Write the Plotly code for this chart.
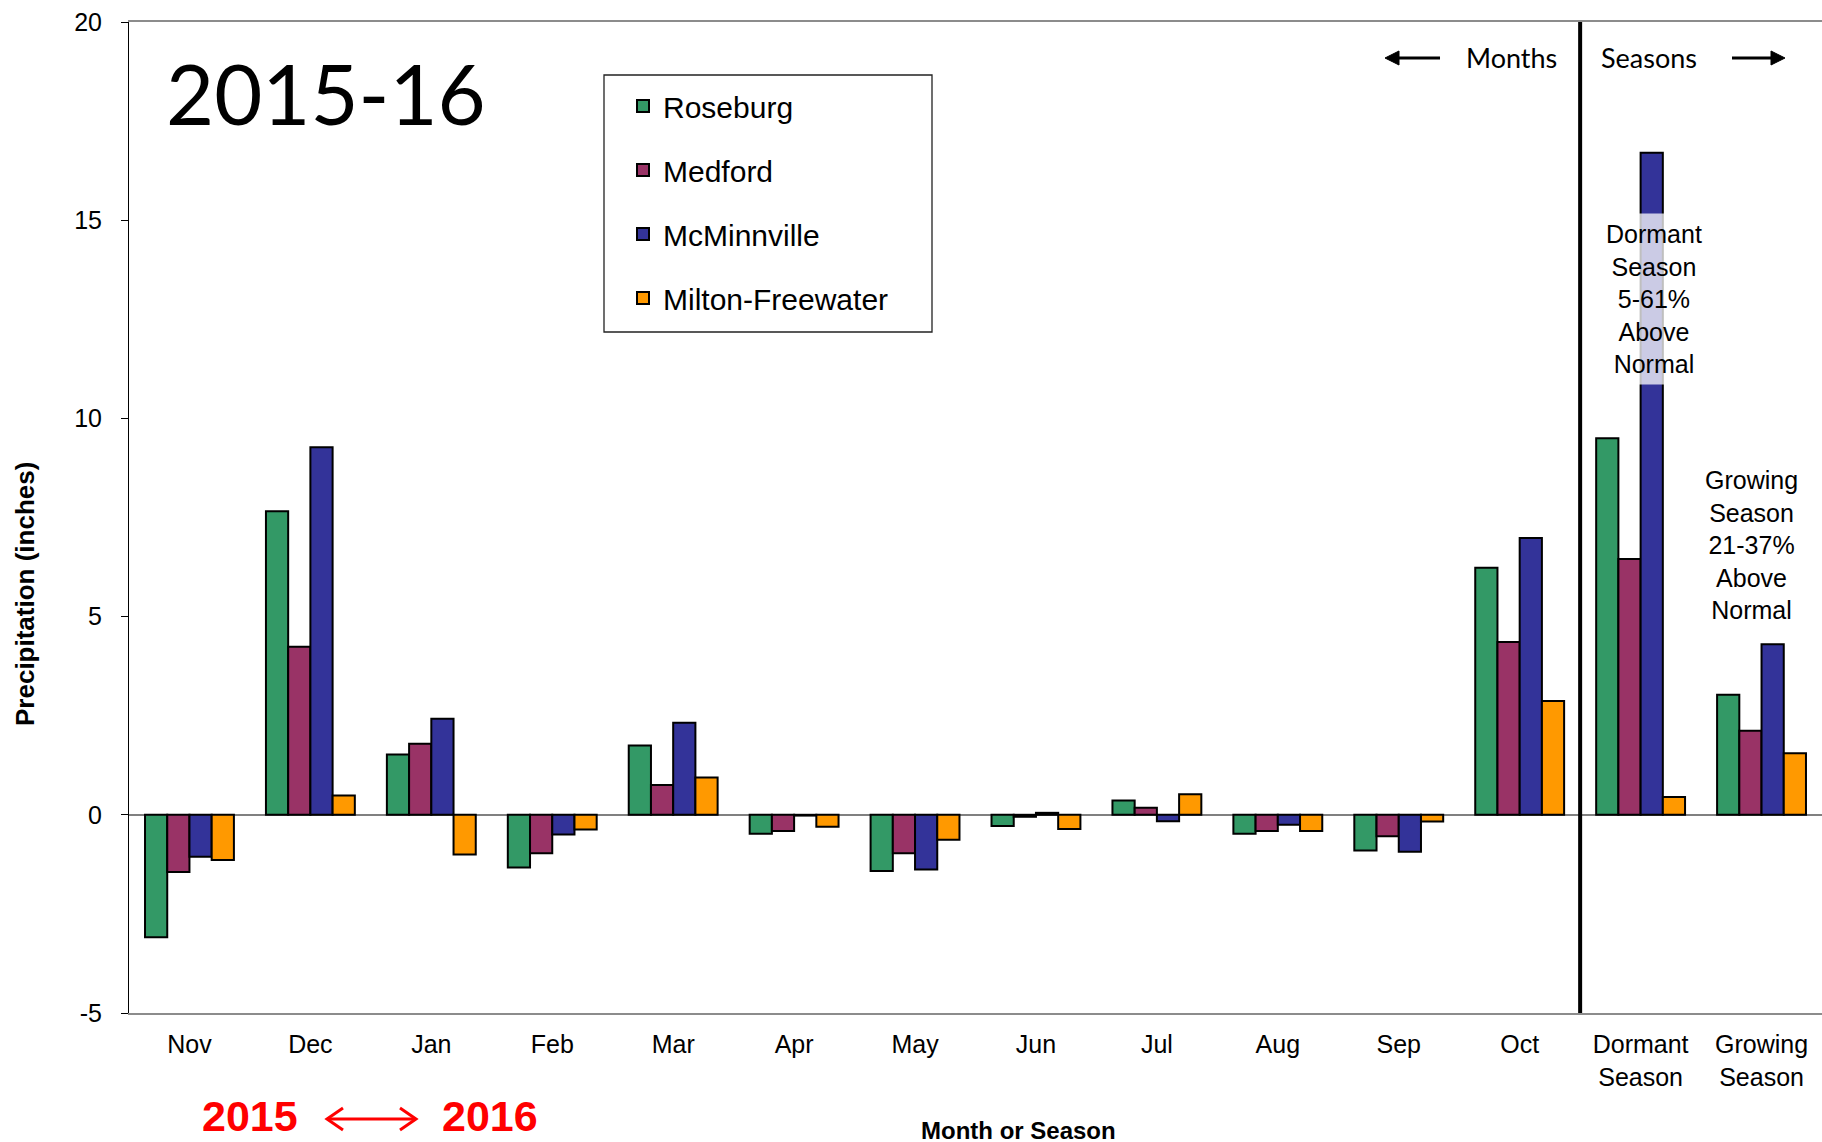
import plotly.graph_objects as go

# ---------------- data ----------------
categories = ["Nov", "Dec", "Jan", "Feb", "Mar", "Apr", "May", "Jun", "Jul", "Aug",
              "Sep", "Oct", "Dormant<br>Season", "Growing<br>Season"]
roseburg = [-3.09, 7.66, 1.52, -1.33, 1.75, -0.48, -1.42, -0.28, 0.36, -0.48, -0.90, 6.23, 9.50, 3.03]
medford = [-1.44, 4.24, 1.79, -0.97, 0.75, -0.41, -0.97, -0.05, 0.18, -0.41, -0.54, 4.36, 6.45, 2.12]
mcminnville = [-1.06, 9.27, 2.42, -0.50, 2.32, -0.02, -1.38, 0.05, -0.16, -0.25, -0.93, 6.98, 16.70, 4.30]
milton_freewater = [-1.14, 0.49, -1.00, -0.37, 0.94, -0.30, -0.63, -0.36, 0.52, -0.41, -0.17, 2.87, 0.45, 1.55]

series_names = ["Roseburg", "Medford", "McMinnville", "Milton-Freewater"]
series_values = [roseburg, medford, mcminnville, milton_freewater]
series_colors = ["#339966", "#993366", "#333399", "#FF9900"]

y_ticks = [-5, 0, 5, 10, 15, 20]
y_tick_labels = ["-5", "0", "5", "10", "15", "20"]

# ---------------- layout helpers (pixel -> paper) ----------------
W, H = 1822, 1142
L, R, T, B = 129, 1822, 22, 1013


def px(x):
    return (x - L) / (R - L)


def py(y):
    return (B - y) / (B - T)


ARIAL = "Liberation Sans, Arial, sans-serif"
CALIBRI = "Lato, Carlito, Calibri, sans-serif"

fig = go.Figure()
for name, vals, col in zip(series_names, series_values, series_colors):
    fig.add_trace(go.Bar(
        x=categories, y=vals, name=name, legendgroup=name,
        marker=dict(color=col, line=dict(color="black", width=2)),
    ))

shapes = []
# separator between months and seasons
shapes.append(dict(type="line", xref="x", yref="paper", x0=11.5, x1=11.5, y0=0, y1=1,
                   line=dict(color="black", width=4)))
# legend box
shapes.append(dict(type="rect", xref="paper", yref="paper",
                   x0=px(604), x1=px(932), y0=py(332), y1=py(75),
                   line=dict(color="#222222", width=1.3), fillcolor="rgba(0,0,0,0)"))


def path(points, close=False):
    s = "M " + " L ".join(f"{px(a):.5f},{py(b):.5f}" for a, b in points)
    return s + (" Z" if close else "")


# Months arrow (pointing left)
shapes.append(dict(type="path", xref="paper", yref="paper",
                   path=path([(1394, 58), (1440, 58)]), line=dict(color="black", width=3)))
shapes.append(dict(type="path", xref="paper", yref="paper",
                   path=path([(1385, 58), (1399, 51), (1399, 65)], close=True),
                   line=dict(color="black", width=1), fillcolor="black"))
# Seasons arrow (pointing right)
shapes.append(dict(type="path", xref="paper", yref="paper",
                   path=path([(1732, 58), (1776, 58)]), line=dict(color="black", width=3)))
shapes.append(dict(type="path", xref="paper", yref="paper",
                   path=path([(1785, 58), (1771, 51), (1771, 65)], close=True),
                   line=dict(color="black", width=1), fillcolor="black"))
# red double arrow between years
red = "#FF0000"
shapes.append(dict(type="path", xref="paper", yref="paper",
                   path=path([(327, 1119), (416, 1119)]), line=dict(color=red, width=3)))
shapes.append(dict(type="path", xref="paper", yref="paper",
                   path=path([(343, 1108), (327, 1119), (343, 1130)]), line=dict(color=red, width=3)))
shapes.append(dict(type="path", xref="paper", yref="paper",
                   path=path([(400, 1108), (416, 1119), (400, 1130)]), line=dict(color=red, width=3)))

annotations = [
    dict(text="2015-16", x=px(164), y=py(93), xanchor="left", yanchor="middle",
         font=dict(family=CALIBRI, size=83, color="black")),
    dict(text="Months", x=px(1511), y=py(58), xanchor="center", yanchor="middle",
         font=dict(family=CALIBRI, size=27, color="black")),
    dict(text="Seasons", x=px(1649), y=py(58), xanchor="center", yanchor="middle",
         font=dict(family=CALIBRI, size=27, color="black")),
    dict(text="Dormant<br>Season<br>5-61%<br>Above<br>Normal", x=px(1654), y=py(299),
         xanchor="center", yanchor="middle", bgcolor="rgba(255,255,255,0.75)", borderpad=6,
         font=dict(family=ARIAL, size=25, color="black")),
    dict(text="Growing<br>Season<br>21-37%<br>Above<br>Normal", x=px(1751), y=py(545),
         xanchor="center", yanchor="middle",
         font=dict(family=ARIAL, size=25, color="black")),
    dict(text="<b>Month or Season</b>", x=px(1019), y=py(1130), xanchor="center", yanchor="middle",
         height=26, font=dict(family=ARIAL, size=24, color="black")),
    dict(text="<b>Precipitation (inches)</b>", x=px(25), y=py(594), xanchor="center", yanchor="middle",
         textangle=-90, font=dict(family=ARIAL, size=26, color="black")),
    dict(text="<b>2015</b>", x=px(250), y=py(1116), xanchor="center", yanchor="middle",
         height=36, font=dict(family=ARIAL, size=43, color=red)),
    dict(text="<b>2016</b>", x=px(490), y=py(1116), xanchor="center", yanchor="middle",
         height=36, font=dict(family=ARIAL, size=43, color=red)),
]
for a in annotations:
    a.update(xref="paper", yref="paper", showarrow=False)

fig.update_layout(
    width=W, height=H,
    margin=dict(l=L, r=W - R, t=T, b=H - B, pad=0),
    paper_bgcolor="white", plot_bgcolor="white",
    barmode="group", bargap=0.265, bargroupgap=0,
    font=dict(family=ARIAL, color="black"),
    showlegend=True,
    legend=dict(x=px(623), y=py(80), xanchor="left", yanchor="top",
                font=dict(family=ARIAL, size=30, color="black"),
                bgcolor="rgba(0,0,0,0)", borderwidth=0, tracegroupgap=22,
                traceorder="grouped"),
    shapes=shapes,
    annotations=annotations,
    xaxis=dict(type="category", range=[-0.5, 13.5], showline=True, linecolor="#8c8c8c",
               linewidth=2, mirror=True, ticks="", showgrid=False, zeroline=False,
               tickfont=dict(family=ARIAL, size=25, color="black"), ticklabelstandoff=8),
    yaxis=dict(range=[-5, 20], tickvals=y_ticks, ticktext=y_tick_labels, showline=True,
               linecolor="black", linewidth=1,
               ticks="outside", ticklen=7, tickcolor="black", tickwidth=1, showgrid=False,
               zeroline=True, zerolinecolor="#808080", zerolinewidth=1.5,
               tickfont=dict(family=ARIAL, size=25, color="black"), ticklabelstandoff=14),
)

fig.write_html("out.html")
